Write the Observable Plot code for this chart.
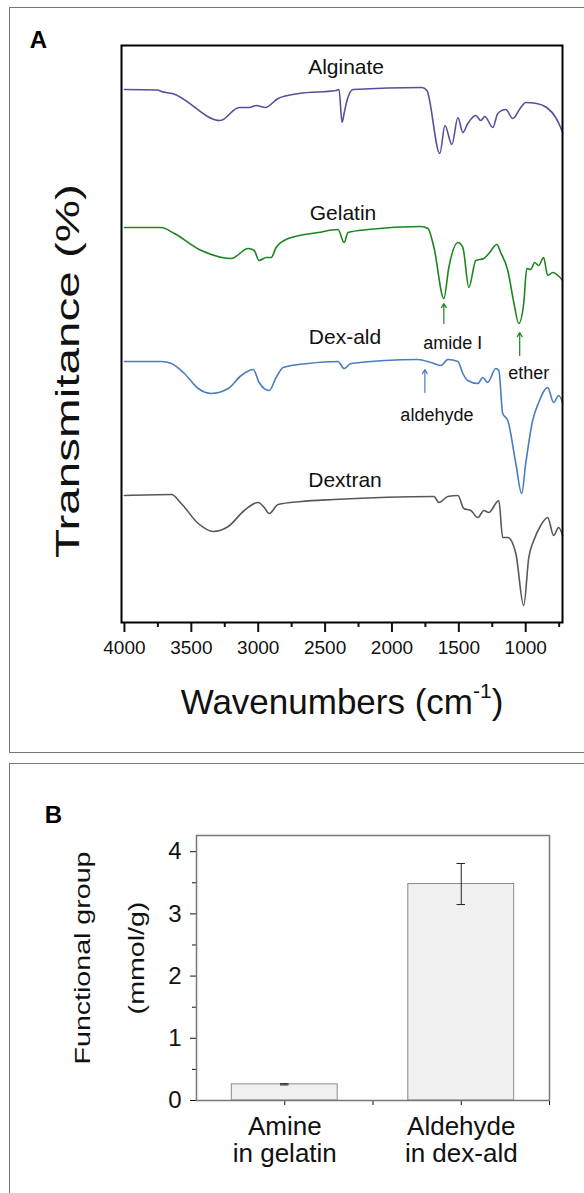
<!DOCTYPE html>
<html><head><meta charset="utf-8">
<script src="https://cdn.jsdelivr.net/npm/d3@7"></script>
<script src="https://cdn.jsdelivr.net/npm/@observablehq/plot@0.6"></script>
<style>
html,body{margin:0;padding:0;background:#fff;width:584px;height:1193px;overflow:hidden;font-family:"Liberation Sans",Arial,sans-serif;}
#wrap{position:relative;width:584px;height:1193px;}
.box{position:absolute;border:1px solid #777;box-sizing:border-box;}
#boxA{left:9px;top:7px;width:600px;height:746px;}
#boxB{left:9px;top:763px;width:600px;height:460px;}
#chartA{position:absolute;left:0;top:0;}
#chartB{position:absolute;left:0;top:763px;}
</style></head><body>
<div id="wrap"><div id="boxA" class="box"></div><div id="boxB" class="box"></div><div id="chartA"></div><div id="chartB"></div></div>
<script>
// ---------- Panel A data (wavenumber cm-1, transmittance in arbitrary offset units) ----------
const wavenumberTicks = [4000, 3500, 3000, 2500, 2000, 1500, 1000];
const wavenumberMinorTicks = [3750, 3250, 2750, 2250, 1750, 1250, 750];

const alginate = [[4000,533],[3754,532.5],[3724,531],[3642,529],[3284,502],[3142,515],[3067,515],[3015,517],[2948,515],[2851,524],[2694,529],[2418,532],[2396,533],[2373,500],[2358,509],[2336,522],[2291,533],[1776,535],[1739,532],[1642,469],[1604,497],[1552,478],[1507,505],[1470,490],[1433,499],[1373,507],[1336,502],[1306,506],[1246,495],[1209,509],[1149,513],[1097,504],[1037,515],[1000,520],[918,519],[843,515],[776,505],[739,495],[724,490]];
const gelatin = [[4000,395],[3724,395],[3627,389],[3425,372],[3201,364],[3075,374],[3030,372],[2993,362],[2940,365],[2903,365],[2866,375],[2776,384],[2552,390],[2403,393],[2358,380],[2328,390],[2179,393],[1784,396],[1731,394],[1686,375],[1612,324],[1575,355],[1507,380],[1470,375],[1425,335],[1373,362],[1313,364],[1276,369],[1216,378],[1187,370],[1134,352],[1089,320],[1052,299],[1015,319],[992,354],[963,353],[933,360],[903,357],[866,365],[836,347],[798,350],[724,342]];
const dexAld = [[4000,261],[3724,261],[3649,259],[3552,249],[3448,234],[3351,229],[3224,234],[3127,247],[3037,253],[2993,240],[2918,232],[2866,245],[2813,255],[2627,259],[2403,261],[2358,254],[2306,259],[1806,263],[1709,260],[1634,257],[1582,263],[1507,261],[1470,249],[1433,242],[1358,239],[1321,245],[1284,240],[1224,254],[1201,252],[1172,209],[1134,202],[1074,159],[1030,129],[1000,159],[948,202],[903,220],[836,235],[791,220],[754,227],[724,220]];
const dextran = [[4000,127],[3649,128],[3575,119],[3448,99],[3336,91],[3224,96],[3104,112],[3000,120],[2955,115],[2918,109],[2851,118],[2679,121],[2433,123],[1686,126],[1649,120],[1582,126],[1507,127],[1463,114],[1410,112],[1358,105],[1313,112],[1276,110],[1201,122],[1172,85],[1134,85],[1074,69],[1015,17],[977,65],[940,82],[888,97],[836,105],[791,87],[754,95],[724,87]];

const seriesNames = ["Alginate", "Gelatin", "Dex-ald", "Dextran"];
const seriesColors = ["#5a4c9f", "#1b861f", "#4a7dc0", "#585858"];
const seriesLabelX = [2343, 2366, 2351, 2351];
const seriesLabelY = [555, 409, 285, 142];

const noteTexts = ["amide Ⅰ", "ether", "aldehyde"];
const noteX = [1545, 977, 1664];
const noteY = [279, 249, 207];
const arrowX = [1612, 1045, 1754];
const arrowFrom = [299, 267, 230];
const arrowTo = [319, 290, 253];
const arrowColors = ["#1b861f", "#1b861f", "#4a7dc0"];

// ---------- Panel B data ----------
const groups = ["Amine\nin gelatin", "Aldehyde\nin dex-ald"];
const groupValues = [0.26, 3.48];
const groupErrors = [0.01, 0.33];
const yTicksB = [0, 1, 2, 3, 4];
const yMinorTicksB = [0.5, 1.5, 2.5, 3.5];

const font = '"Liberation Sans", Arial, sans-serif';
const spectra = [alginate, gelatin, dexAld, dextran];
const toRows = s => s.map(([w, t]) => ({w, t}));

const plotA = Plot.plot({
  width: 584, height: 752,
  marginLeft: 121, marginRight: 22, marginTop: 45, marginBottom: 130,
  style: {fontFamily: font, fontSize: "19px", background: "transparent", overflow: "visible", color: "#111"},
  x: {domain: [4022, 725], label: null},
  y: {domain: [0, 577], axis: null},
  marks: [
    Plot.axisX({ticks: wavenumberMinorTicks, tickSize: 5, tickFormat: () => "", strokeWidth: 2, label: null}),
    Plot.axisX({ticks: wavenumberTicks, tickSize: 10, tickPadding: 8, tickFormat: d => String(d), fontSize: 19, strokeWidth: 2, label: null}),
    ...spectra.map((s, i) => Plot.line(toRows(s), {x: "w", y: "t", stroke: seriesColors[i], strokeWidth: 1.6, curve: "monotone-x"})),
    Plot.text(seriesNames, {x: (d, i) => seriesLabelX[i], y: (d, i) => seriesLabelY[i], text: d => d, fontSize: 21, fill: "#111"}),
    Plot.text(noteTexts, {x: (d, i) => noteX[i], y: (d, i) => noteY[i], text: d => d, fontSize: 18, fill: "#111"}),
    ...arrowX.map((ax, i) => Plot.arrow([i], {x1: () => ax, x2: () => ax, y1: () => arrowFrom[i], y2: () => arrowTo[i], stroke: arrowColors[i], strokeWidth: 1.2, headLength: 6})),
    Plot.frame({stroke: "#000", strokeWidth: 2}),
    Plot.text(["A"], {frameAnchor: "top-left", dx: -83, dy: -5, fontSize: 24, fontWeight: "bold", textAnchor: "middle", lineAnchor: "middle", fill: "#000"}),
    Plot.text(["Transmitance (%)"], {frameAnchor: "left", dx: -53, dy: 37, rotate: -90, fontSize: 34, textAnchor: "middle", lineAnchor: "middle", fill: "#111"}),
    Plot.text(["Wavenumbers (cm-1)"], {frameAnchor: "bottom", dy: 80, fontSize: 35, textAnchor: "middle", lineAnchor: "middle", fill: "#111"})
  ]
});
document.getElementById("chartA").appendChild(plotA);

const barRows = groups.map((g, i) => ({g, i, v: groupValues[i], e: groupErrors[i]}));
const plotB = Plot.plot({
  width: 584, height: 430,
  marginLeft: 196, marginRight: 35, marginTop: 72, marginBottom: 93,
  style: {fontFamily: font, fontSize: "24px", background: "transparent", overflow: "visible", color: "#111"},
  x: {domain: [0, 2], label: null},
  y: {domain: [0, 4.26], label: null},
  marks: [
    Plot.rectY(barRows, {x1: d => d.i + 0.2, x2: d => d.i + 0.8, y1: 0, y2: "v", fill: "#f0f0f0", stroke: "#8a8a8a", strokeWidth: 1}),
    Plot.ruleX(barRows, {x: d => d.i + 0.5, y1: d => d.v - d.e, y2: d => d.v + d.e, stroke: "#222", strokeWidth: 1}),
    Plot.ruleY(barRows, {y: d => d.v + d.e, x1: d => d.i + 0.476, x2: d => d.i + 0.524, stroke: "#222", strokeWidth: 1}),
    Plot.ruleY(barRows, {y: d => d.v - d.e, x1: d => d.i + 0.476, x2: d => d.i + 0.524, stroke: "#222", strokeWidth: 1}),
    Plot.axisY({ticks: yTicksB, tickSize: 6, tickPadding: 9, tickFormat: d => String(d), fontSize: 24, label: null}),
    Plot.axisY({ticks: yMinorTicksB, tickSize: 4, tickFormat: () => "", label: null}),
    Plot.axisX({ticks: [0.5, 1.5], tickSize: 5, tickPadding: 10, tickFormat: v => groups[Math.floor(v)], fontSize: 26, lineHeight: 1.05, label: null}),
    Plot.axisX({ticks: [1, 2], tickSize: 5, tickFormat: () => "", label: null}),
    Plot.frame({stroke: "#777", strokeWidth: 1.5}),
    Plot.text(["B"], {frameAnchor: "top-left", dx: -143, dy: -20, fontSize: 24, fontWeight: "bold", textAnchor: "middle", lineAnchor: "middle", fill: "#000"}),
    Plot.text(["Functional group"], {frameAnchor: "left", dx: -114, dy: -10, rotate: -90, fontSize: 22, textAnchor: "middle", lineAnchor: "middle", fill: "#111"}),
    Plot.text(["(mmol/g)"], {frameAnchor: "left", dx: -60, dy: -10, rotate: -90, fontSize: 22, textAnchor: "middle", lineAnchor: "middle", fill: "#111"})
  ]
});
document.getElementById("chartB").appendChild(plotB);

// stretch rotated titles along their length, and superscript the unit
function stretch(root, label, k) {
  d3.select(root).selectAll("text").filter(function() { return this.textContent === label; })
    .each(function() { const t = this.getAttribute("transform") || ""; this.setAttribute("transform", t + ` scale(${k},1)`); });
}
stretch(plotA, "Transmitance (%)", 1.4);
stretch(plotB, "Functional group", 1.3);
stretch(plotB, "(mmol/g)", 1.3);
d3.select(plotA).selectAll("text").filter(function() { return this.textContent === "Wavenumbers (cm-1)"; })
  .each(function() {
    const t = d3.select(this);
    t.text("Wavenumbers (cm");
    t.append("tspan").attr("font-size", "60%").attr("dy", "-0.75em").text("-1");
    t.append("tspan").attr("dy", "0.45em").text(")");
  });
</script>
</body></html>
